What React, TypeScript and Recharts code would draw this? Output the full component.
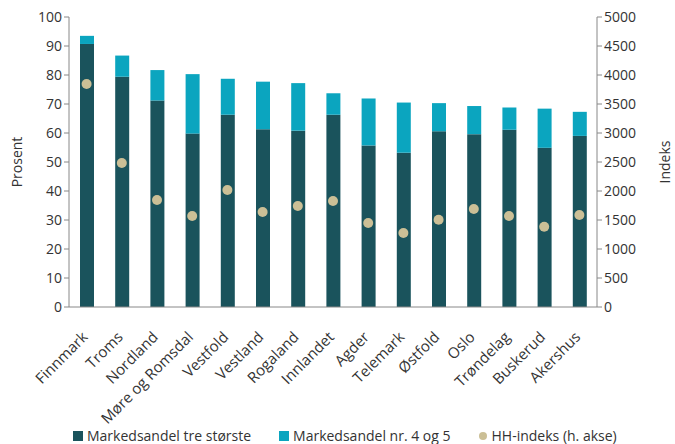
// @ts-nocheck
import { Bar, ComposedChart, Line, XAxis, YAxis } from 'recharts';

const fylker = ['Finnmark', 'Troms', 'Nordland', 'Møre og Romsdal', 'Vestfold', 'Vestland', 'Rogaland', 'Innlandet', 'Agder', 'Telemark', 'Østfold', 'Oslo', 'Trøndelag', 'Buskerud', 'Akershus'];
const treStorste = [90.7, 79.4, 71.2, 59.8, 66.3, 61.3, 60.8, 66.3, 55.7, 53.2, 60.6, 59.6, 61.1, 54.9, 59.0];
const totalFem = [93.5, 86.7, 81.7, 80.3, 78.7, 77.7, 77.2, 73.7, 71.9, 70.5, 70.3, 69.3, 68.8, 68.4, 67.3];
const hhIndeks = [3845, 2483, 1845, 1569, 2017, 1638, 1741, 1828, 1448, 1276, 1505, 1690, 1569, 1384, 1586];
const leftTicks = [0, 10, 20, 30, 40, 50, 60, 70, 80, 90, 100];
const rightTicks = [0, 500, 1000, 1500, 2000, 2500, 3000, 3500, 4000, 4500, 5000];

const DARK = '#1a535c';
const LIGHT = '#0ba5bf';
const DOT = '#cbbf96';
const FONT = '"Open Sans", sans-serif';

const data = fylker.map((navn, i) => ({
  navn,
  tre: treStorste[i],
  fire5: +(totalFem[i] - treStorste[i]).toFixed(1),
  hh: hhIndeks[i],
}));

// rotated category labels, end of text sits just under the bar
function CategoryTick({ x, y, payload }) {
  const ax = x + 2;
  const ay = y + 23;
  return (
    <text x={ax} y={ay} textAnchor="end" transform={`rotate(-45, ${ax}, ${ay})`}
      fill="#333" fontSize={15} fontFamily={FONT}>
      {payload.value}
    </text>
  );
}

function LegendRow() {
  const item = { display: 'flex', alignItems: 'center', marginRight: 28 };
  return (
    <div style={{ position: 'absolute', left: 73, top: 426, display: 'flex', fontFamily: FONT, fontSize: 14, color: '#333' }}>
      <div style={item}><span style={{ width: 10, height: 10, background: DARK, marginRight: 4 }} />Markedsandel tre største</div>
      <div style={item}><span style={{ width: 10, height: 10, background: LIGHT, marginRight: 4 }} />Markedsandel nr. 4 og 5</div>
      <div style={item}><span style={{ width: 8, height: 8, borderRadius: 4, background: DOT, marginRight: 5 }} />HH-indeks (h. akse)</div>
    </div>
  );
}

export default function App() {
  const tickStyle = { fontSize: 14, fill: '#333', fontFamily: FONT };
  return (
    <div style={{ position: 'absolute', left: 0, top: 0, width: 675, height: 444, background: '#fff' }}>
      <ComposedChart width={675} height={444} data={data} margin={{ top: 17, right: 0, left: 0, bottom: 42 }} barGap={0}>
        <XAxis dataKey="navn" interval={0} tickLine={false} axisLine={{ stroke: '#888' }} height={95} tick={<CategoryTick />} />
        <YAxis yAxisId="left" width={69} domain={[0, 100]} ticks={leftTicks} interval={0}
          axisLine={{ stroke: '#888' }} tickLine={{ stroke: '#888' }} tickSize={5} tick={tickStyle}
          label={{ value: 'Prosent', angle: -90, position: 'insideLeft', offset: 17, style: { textAnchor: 'middle', fontSize: 14, fill: '#333', fontFamily: FONT } }} />
        <YAxis yAxisId="right" orientation="right" width={78} domain={[0, 5000]} ticks={rightTicks} interval={0}
          axisLine={{ stroke: '#888' }} tickLine={{ stroke: '#888' }} tickSize={5} tick={tickStyle}
          label={{ value: 'Indeks', angle: -90, position: 'insideRight', offset: 10, style: { textAnchor: 'middle', fontSize: 14, fill: '#333', fontFamily: FONT } }} />
        <Bar yAxisId="left" dataKey="tre" stackId="a" fill={DARK} barSize={14} isAnimationActive={false} />
        <Bar yAxisId="left" dataKey="fire5" stackId="a" fill={LIGHT} barSize={14} isAnimationActive={false} />
        <Line yAxisId="right" dataKey="hh" stroke="none" legendType="circle"
          dot={{ r: 5, fill: DOT, stroke: 'none' }} activeDot={false} isAnimationActive={false} />
      </ComposedChart>
      <LegendRow />
    </div>
  );
}
